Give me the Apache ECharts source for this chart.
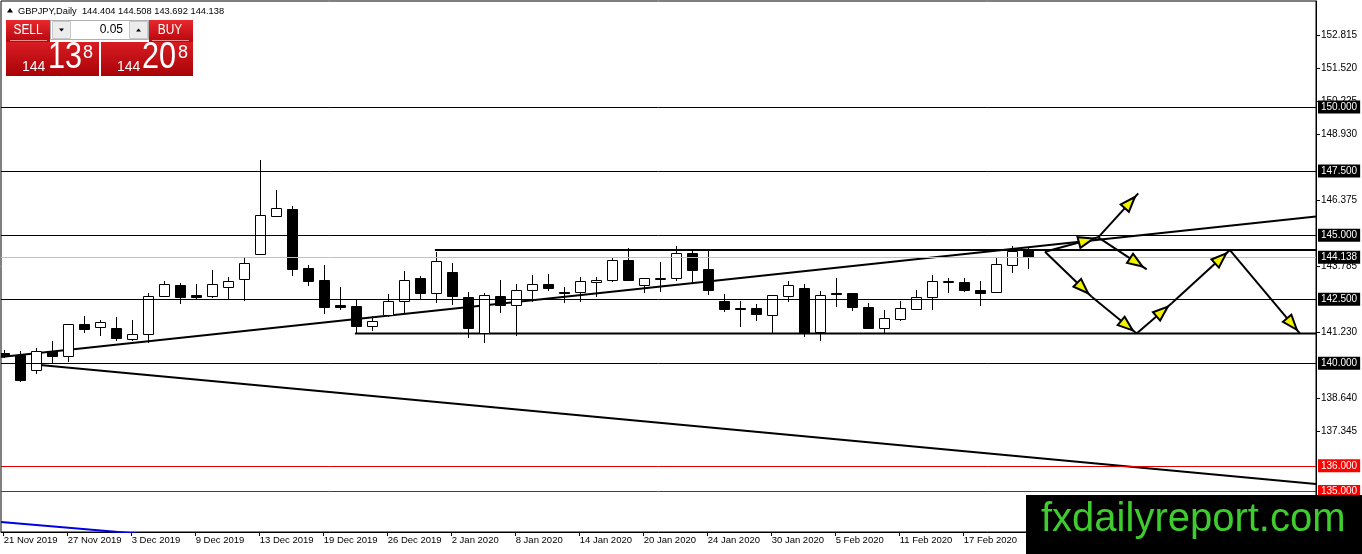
<!DOCTYPE html>
<html><head><meta charset="utf-8">
<script src="https://cdn.jsdelivr.net/npm/echarts@6/dist/echarts.min.js"></script>
<style>html,body{margin:0;padding:0;background:#fff}#c{width:1362px;height:554px}</style>
</head><body><div id="c"></div>
<script>
const dates = ['21 Nov 2019','22 Nov 2019','25 Nov 2019','26 Nov 2019','27 Nov 2019','28 Nov 2019','29 Nov 2019',
 '2 Dec 2019','3 Dec 2019','4 Dec 2019','5 Dec 2019','6 Dec 2019','9 Dec 2019','10 Dec 2019','11 Dec 2019','12 Dec 2019',
 '13 Dec 2019','16 Dec 2019','17 Dec 2019','18 Dec 2019','19 Dec 2019','20 Dec 2019','23 Dec 2019','24 Dec 2019',
 '26 Dec 2019','27 Dec 2019','30 Dec 2019','31 Dec 2019','2 Jan 2020','3 Jan 2020','6 Jan 2020','7 Jan 2020',
 '8 Jan 2020','9 Jan 2020','10 Jan 2020','13 Jan 2020','14 Jan 2020','15 Jan 2020','16 Jan 2020','17 Jan 2020',
 '20 Jan 2020','21 Jan 2020','22 Jan 2020','23 Jan 2020','24 Jan 2020','27 Jan 2020','28 Jan 2020','29 Jan 2020',
 '30 Jan 2020','31 Jan 2020','3 Feb 2020','4 Feb 2020','5 Feb 2020','6 Feb 2020','7 Feb 2020','10 Feb 2020',
 '11 Feb 2020','12 Feb 2020','13 Feb 2020','14 Feb 2020','17 Feb 2020','18 Feb 2020','19 Feb 2020','20 Feb 2020','21 Feb 2020'];

const opens = [140.40,140.324,139.727,140.480,140.273,141.533,141.405,141.377,140.960,141.131,
 142.614,143.055,142.665,142.599,142.989,143.277,144.253,145.735,146.020,143.718,
 143.250,142.275,142.236,141.444,141.873,142.431,143.316,142.731,143.550,142.575,
 141.170,142.614,142.247,142.848,143.082,142.782,142.770,143.172,143.223,144.019,
 143.043,143.289,143.316,144.292,143.668,142.431,142.158,142.146,141.857,142.637,
 142.926,141.221,142.743,142.743,142.185,141.350,141.717,142.130,142.599,143.172,
 143.160,142.860,142.770,143.863,144.404];
const closes = [140.28,139.348,140.468,140.273,141.533,141.350,141.600,140.999,141.143,142.626,
 143.082,142.599,142.599,143.082,143.211,143.902,145.774,146.048,143.691,143.223,
 142.208,142.197,141.467,141.650,142.431,143.238,142.731,143.980,142.614,141.350,
 142.653,142.275,142.848,143.082,142.926,142.731,143.199,143.250,144.019,143.223,
 143.316,143.328,144.292,143.640,142.833,142.130,142.119,141.896,142.653,143.055,
 141.170,142.653,142.704,142.185,141.350,141.756,142.146,142.599,143.211,143.199,
 142.833,142.755,143.863,144.393,144.138];
const highs = [140.50,140.480,140.597,140.870,141.533,141.845,141.689,141.806,141.689,142.731,
 143.211,143.121,143.094,143.640,143.367,144.108,147.932,146.762,146.137,143.824,
 143.835,142.989,142.497,141.845,142.704,143.613,143.406,144.354,143.925,142.794,
 142.755,143.250,143.094,143.445,143.484,142.965,143.379,143.355,144.097,144.487,
 143.316,143.941,144.577,144.393,144.393,142.692,142.431,142.314,142.653,143.223,
 143.094,142.821,143.316,142.743,142.341,142.080,142.431,142.860,143.445,143.340,
 143.316,143.211,144.159,144.577,144.508];
const lows = [140.20,139.282,139.571,139.961,140.039,141.194,141.077,140.882,140.870,140.780,
 142.575,142.314,142.509,142.560,142.509,142.442,144.253,145.735,143.418,143.028,
 141.935,142.080,141.155,141.272,141.795,141.951,142.497,142.364,142.263,140.975,
 140.804,141.974,141.065,142.403,142.833,142.341,142.403,142.599,143.184,143.223,
 142.755,142.794,143.223,143.145,142.665,142.002,141.428,141.662,141.170,142.403,
 141.014,140.882,142.185,142.052,141.350,141.170,141.662,142.130,142.080,142.731,
 142.794,142.236,142.770,143.535,143.692];

const xLabelIdx = [0,4,8,12,16,20,24,28,32,36,40,44,48,52,56,60];
const yTickLabels = [137.345,138.640,141.230,143.785,146.375,148.930,150.225,151.520,152.815];
const blackLevels = [150, 147.5, 145, 142.5, 140];
const redLevels = [136, 135];
const currentPrice = 144.138;

const risingLine = [[-0.17,140.245],[82.02,145.73]];
const fallingLine = [[2.27,139.934],[82.02,135.291]];
const blueLine = [[-0.17,133.81],[12.27,133.145]];
const resistanceLine = [[26.95,144.42],[82.02,144.42]];
const supportLine = [[21.95,141.16],[82.02,141.16]];
const arrows = [
 [65.08,144.354,68.41,144.916],
 [68.41,144.916,70.91,146.633],
 [68.41,144.916,71.44,143.668],
 [65.08,144.354,68.0,142.599],
 [68.0,142.599,70.81,141.16],
 [70.81,141.16,73.0,142.341],
 [73.0,142.341,76.64,144.42],
 [76.64,144.42,81.02,141.16]
];
const header = 'GBPJPY,Daily  144.404 144.508 143.692 144.138';

const candleData = dates.map((d,i)=>[i, opens[i], closes[i], lows[i], highs[i]]);
const FONT = 'Liberation Sans';

function renderCandle(params, api){
  const i = api.value(0), o = api.value(1), c = api.value(2), l = api.value(3), h = api.value(4);
  const pO = api.coord([i,o]), pC = api.coord([i,c]), pL = api.coord([i,l]), pH = api.coord([i,h]);
  const x = Math.round(pO[0]) + 0.5;
  const top = Math.min(pO[1], pC[1]), bot = Math.max(pO[1], pC[1]);
  const bull = c > o;
  const y0 = Math.round(top) + 0.5;
  const hh = Math.max(1, Math.round(bot - top));
  return {type:'group', children:[
    {type:'line', shape:{x1:x,y1:Math.round(pH[1]),x2:x,y2:Math.round(pL[1])}, style:{stroke:'#000', lineWidth:1}},
    {type:'rect', shape:{x:x-5, y:y0, width:10, height:hh}, style:{fill: bull ? '#fff' : '#000', stroke:'#000', lineWidth:1}}
  ]};
}
function renderArrow(params, api){
  const a = api.coord([api.value(0), api.value(1)]);
  const b = api.coord([api.value(2), api.value(3)]);
  const dx=b[0]-a[0], dy=b[1]-a[1], L=Math.hypot(dx,dy), ux=dx/L, uy=dy/L;
  const tip=[b[0]-ux*5, b[1]-uy*5];
  const base=[tip[0]-ux*15, tip[1]-uy*15];
  const nx=-uy, ny=ux;
  return {type:'group', children:[
    {type:'line', shape:{x1:a[0],y1:a[1],x2:b[0],y2:b[1]}, style:{stroke:'#000',lineWidth:2}},
    {type:'polygon', shape:{points:[tip,[base[0]+nx*5.5,base[1]+ny*5.5],[base[0]-nx*5.5,base[1]-ny*5.5]]},
     style:{fill:'#f2f200',stroke:'#000',lineWidth:2}}
  ]};
}
function trend(data, color, width){
  return {type:'line', data:data, symbol:'none', silent:true, clip:true, z:3,
    lineStyle:{color:color, width:width}};
}
function lvl(v, lineColor, boxColor){
  return {yAxis:v, name:v.toFixed(3), lineStyle:{color:lineColor, width:1, type:'solid'},
    label:{backgroundColor:boxColor}};
}

const red = {type:'linear',x:0,y:0,x2:0,y2:1,colorStops:[{offset:0,color:'#e8282d'},{offset:1,color:'#b5070d'}]};
const red2 = {type:'linear',x:0,y:0,x2:0,y2:1,colorStops:[{offset:0,color:'#d81c22'},{offset:1,color:'#a80308'}]};

const option = {
  animation:false,
  backgroundColor:'#fff',
  grid:{left:1, right:46, top:1, bottom:22, show:true, borderColor:'#000', borderWidth:1, backgroundColor:'#fff'},
  xAxis:{type:'value', min:-0.169, max:82.02,
    axisLine:{show:true, onZero:false, lineStyle:{color:'#000'}},
    axisTick:{show:true, customValues:xLabelIdx, length:4, lineStyle:{color:'#000'}},
    axisLabel:{customValues:xLabelIdx, formatter:v=>dates[v], align:'left', color:'#000', fontSize:9.5, fontFamily:FONT, margin:3},
    splitLine:{show:false}},
  yAxis:{type:'value', position:'right', min:133.418, max:154.136,
    axisLine:{show:true, onZero:false, lineStyle:{color:'#000'}},
    axisTick:{show:true, customValues:yTickLabels, length:4, lineStyle:{color:'#000'}},
    axisLabel:{customValues:yTickLabels, formatter:v=>v.toFixed(3), color:'#000', fontSize:10, fontFamily:FONT, margin:5},
    splitLine:{show:false}},
  series:[
    {type:'line', data:[], clip:false, silent:true, z:2,
     markLine:{silent:true, symbol:['none','none'], animation:false, precision:3,
       label:{show:true, position:'end', formatter:'{b}', color:'#fff',
         padding:[2,3,1,3], fontSize:10, fontFamily:FONT, distance:2},
       data: blackLevels.map(v=>lvl(v,'#000','#000'))
         .concat(redLevels.map(v=>lvl(v,'#e00000','#ff0000')))
         .concat([lvl(currentPrice,'#c0c0c0','#000')])
     }},
    trend(risingLine,'#000',2),
    trend(fallingLine,'#000',2),
    trend(blueLine,'#0000e0',2),
    trend(resistanceLine,'#000',2),
    trend(supportLine,'#000',2),
    {type:'custom', data:candleData, renderItem:renderCandle, clip:true, z:4, silent:true,
     encode:{x:0, y:[1,2,3,4]}},
    {type:'custom', data:arrows, renderItem:renderArrow, clip:true, z:5, silent:true,
     encode:{x:[0,2], y:[1,3]}}
  ],
  graphic:[
    {type:'polygon', z:100, shape:{points:[[7,12.5],[13,12.5],[10,8]]}, style:{fill:'#000'}},
    {type:'text', z:100, x:18, y:11, style:{text:header, fontSize:9.3, fontFamily:FONT, fill:'#000', verticalAlign:'middle'}},
    {type:'rect', z:100, shape:{x:6,y:20,width:44,height:22}, style:{fill:red}},
    {type:'line', z:101, shape:{x1:10,y1:40.5,x2:47,y2:40.5}, style:{stroke:'#ee8a8a', lineWidth:1}},
    {type:'text', z:101, x:28, y:30, scaleX:0.85, style:{text:'SELL', fontSize:14, fontFamily:FONT, fill:'#fff', align:'center', verticalAlign:'middle'}},
    {type:'rect', z:100, shape:{x:50.5,y:20.5,width:98,height:19}, style:{fill:'#fff', stroke:'#b0b0b0'}},
    {type:'rect', z:101, shape:{x:52.5,y:21.5,width:18,height:17}, style:{fill:'#ececec', stroke:'#c8c8c8'}},
    {type:'polygon', z:102, shape:{points:[[59,28.5],[64,28.5],[61.5,31.5]]}, style:{fill:'#000'}},
    {type:'text', z:101, x:123, y:30, style:{text:'0.05', fontSize:12, fontFamily:FONT, fill:'#000', align:'right', verticalAlign:'middle'}},
    {type:'rect', z:101, shape:{x:129.5,y:21.5,width:18,height:17}, style:{fill:'#ececec', stroke:'#c8c8c8'}},
    {type:'polygon', z:102, shape:{points:[[136,31.5],[141,31.5],[138.5,28.5]]}, style:{fill:'#000'}},
    {type:'rect', z:100, shape:{x:149,y:20,width:44,height:22}, style:{fill:red}},
    {type:'line', z:101, shape:{x1:152,y1:40.5,x2:189,y2:40.5}, style:{stroke:'#ee8a8a', lineWidth:1}},
    {type:'text', z:101, x:170, y:30, scaleX:0.85, style:{text:'BUY', fontSize:14, fontFamily:FONT, fill:'#fff', align:'center', verticalAlign:'middle'}},
    {type:'rect', z:100, shape:{x:6,y:42,width:93,height:34}, style:{fill:red2}},
    {type:'rect', z:100, shape:{x:101,y:42,width:92,height:34}, style:{fill:red2}},
    {type:'text', z:101, x:22, y:67, style:{text:'144', fontSize:14, fontFamily:FONT, fill:'#fff', verticalAlign:'middle'}},
    {type:'text', z:101, x:48, y:58, scaleX:0.85, style:{text:'13', fontSize:36, fontFamily:FONT, fill:'#fff', verticalAlign:'middle'}},
    {type:'text', z:101, x:83, y:53, style:{text:'8', fontSize:18, fontFamily:FONT, fill:'#fff', verticalAlign:'middle'}},
    {type:'text', z:101, x:117, y:67, style:{text:'144', fontSize:14, fontFamily:FONT, fill:'#fff', verticalAlign:'middle'}},
    {type:'text', z:101, x:142, y:58, scaleX:0.85, style:{text:'20', fontSize:36, fontFamily:FONT, fill:'#fff', verticalAlign:'middle'}},
    {type:'text', z:101, x:178, y:53, style:{text:'8', fontSize:18, fontFamily:FONT, fill:'#fff', verticalAlign:'middle'}},
    {type:'rect', z:100, shape:{x:1026,y:495,width:336,height:59}, style:{fill:'#000'}},
    {type:'text', z:101, x:1041, y:520, style:{text:'fxdailyreport.com', fontSize:40, fontFamily:FONT, fill:'#3fcc2f', verticalAlign:'middle'}}
  ]
};
const chart = echarts.init(document.getElementById('c'), null, {renderer:'canvas'});
chart.setOption(option);
</script>
</body></html>
